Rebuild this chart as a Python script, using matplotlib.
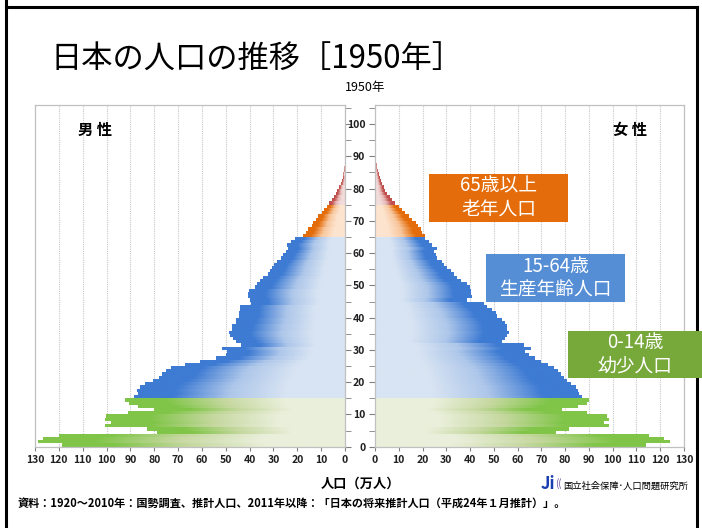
import numpy as np
import matplotlib
matplotlib.use("Agg")
import matplotlib.pyplot as plt
from matplotlib.colors import LinearSegmentedColormap
from matplotlib.patches import Rectangle
from matplotlib.lines import Line2D

plt.rcParams['font.family'] = ['Noto Sans CJK JP', 'DejaVu Sans']

# population by single year of age (10,000 persons), ages 0..
male = [118.7, 128.8, 126.7, 120.0, 78.7, 83.0, 100.5, 98.0, 100.7, 100.2,
        91.0, 80.0, 86.7, 90.6, 92.3,
        88.5, 86.7, 87.1, 86.1, 83.9, 80.4, 78.0, 76.6, 75.2, 73.1,
        67.2, 60.8, 54.1, 49.9, 49.6, 51.6, 43.6, 45.7, 47.1, 48.2,
        48.5, 47.5, 47.5, 45.9, 45.9, 44.5, 44.3, 44.0, 44.0, 39.3,
        40.0, 40.5, 40.5, 40.1, 37.9, 37.0, 35.5, 34.5, 32.5, 31.6,
        30.5, 29.8, 28.5, 27.0, 26.0, 24.6, 24.0, 24.5, 22.5, 21.0,
        17.6, 16.2, 15.5, 14.0, 13.3, 12.2, 11.2, 9.8, 8.9, 7.7,
        6.6, 5.6, 4.6, 3.8, 3.2, 2.4, 1.8, 1.4, 1.0, 0.7,
        0.45, 0.3, 0.2, 0.1]
female = [113.8, 124.0, 121.5, 115.2, 75.9, 81.2, 98.4, 96.2, 98.4, 97.2,
          88.9, 78.4, 85.0, 88.9, 89.9,
          86.7, 85.7, 85.3, 84.3, 82.2, 80.5, 79.1, 78.0, 76.6, 75.2,
          72.4, 69.5, 67.0, 64.6, 62.8, 65.3, 62.5, 53.4, 54.4, 55.5,
          56.2, 55.5, 55.5, 54.4, 53.4, 51.3, 50.6, 49.2, 47.1, 45.7,
          38.4, 40.7, 40.3, 40.3, 39.8, 38.6, 35.8, 34.4, 33.0, 31.6,
          30.2, 29.0, 28.1, 26.0, 25.3, 24.6, 26.0, 23.9, 22.5, 21.0,
          20.7, 19.7, 19.0, 17.8, 16.9, 15.5, 14.0, 12.6, 11.2, 9.8,
          8.4, 7.0, 6.0, 4.9, 4.2, 3.5, 2.8, 2.4, 1.8, 1.4,
          1.1, 0.8, 0.6, 0.4, 0.3, 0.2, 0.1]

x_ticks = list(range(0, 131, 10))
y_ticks = list(range(0, 101, 10))

# light (centre) -> dark (outer end) for each age group
group_colors = {
    'young': ('#e9efda', '#c6d8a0', '#80c548'),
    'work': ('#d8e4f3', '#aec7ea', '#3e7bd3'),
    'old': ('#fde4cf', '#f8c79d', '#e46c0a'),
    'oldest': ('#f2dcdb', '#e6b8b7', '#c0504d'),
}
cmaps = {k: LinearSegmentedColormap.from_list(k, [(0, v[0]), (0.28, v[0]), (0.55, v[1]), (0.82, v[2]), (1, v[2])])
         for k, v in group_colors.items()}


def group(age):
    if age < 15:
        return 'young'
    if age < 65:
        return 'work'
    if age < 75:
        return 'old'
    return 'oldest'


def draw_side(ax, values):
    ages = np.arange(len(values))
    bars = ax.barh(ages, values, height=1, align='edge', color='none', linewidth=0)
    grad = np.linspace(0, 1, 200).reshape(1, -1)
    for age, p in zip(ages, bars.patches):
        x0, w = p.get_x(), p.get_width()
        y0, h = p.get_y(), p.get_height()
        im = ax.imshow(grad, cmap=cmaps[group(age)], extent=[x0, x0 + w, y0, y0 + h],
                       aspect='auto', interpolation='bilinear', zorder=2)
        im.set_clip_path(p)
    ax.set_ylim(0, 105.9)
    ax.set_xticks(x_ticks)
    ax.set_yticks(y_ticks)
    ax.set_yticks(range(5, 106, 10), minor=True)
    ax.grid(axis='x', color='#c8c8c8', linestyle=(0, (1, 1)), linewidth=0.8, zorder=0)
    ax.set_axisbelow(True)
    for s in ax.spines.values():
        s.set_color('#c0c0c0')
        s.set_linewidth(0.9)
    ax.tick_params(axis='x', length=3, color='#808080', labelsize=7.5, pad=3)
    ax.tick_params(axis='y', which='both', length=4, color='#808080', labelsize=7.5)
    for lab in ax.get_xticklabels() + ax.get_yticklabels():
        lab.set_fontweight('bold')
        lab.set_color('#202020')


fig = plt.figure(figsize=(7.02, 5.28), dpi=100)
W, H = 702.0, 528.0

axl = fig.add_axes([35 / W, 1 - 446.7 / H, 310 / W, 341.7 / H])
axr = fig.add_axes([375 / W, 1 - 446.7 / H, 309 / W, 341.7 / H])

draw_side(axl, male)
axl.set_xlim(130, 0)
axl.yaxis.tick_right()
axl.tick_params(axis='y', which='both', labelright=False)

draw_side(axr, female)
axr.set_xlim(0, 130)
axr.tick_params(axis='y', pad=3)

axl.text(95 / W, 1 - 130 / H, '男 性', transform=fig.transFigure, fontsize=11,
         fontweight='bold', ha='center', va='center')
axr.text(630 / W, 1 - 130 / H, '女 性', transform=fig.transFigure, fontsize=11,
         fontweight='bold', ha='center', va='center')

# age-group boxes
boxes = [
    (429, 174, 568, 222, '#e46c0a', '65歳以上\n老年人口'),
    (486, 254, 625, 302, '#558ed5', '15-64歳\n生産年齢人口'),
    (568, 331, 702, 378, '#77a83a', '0-14歳\n幼少人口'),
]
for x0, y0, x1, y1, c, t in boxes:
    fig.patches.append(Rectangle((x0 / W, 1 - y1 / H), (x1 - x0) / W, (y1 - y0) / H,
                                 transform=fig.transFigure, facecolor=c, edgecolor='none', zorder=5))
    fig.text((x0 + x1) / 2 / W, 1 - (y0 + y1) / 2 / H, t, color='white', fontsize=13.5,
             ha='center', va='center', linespacing=1.15, zorder=6)

fig.text(50 / W, 1 - 60 / H, '日本の人口の推移［1950年］', fontsize=22.5, ha='left', va='center')
fig.text(365 / W, 1 - 88 / H, '1950年', fontsize=9, ha='center', va='center')
fig.text(360 / W, 1 - 484 / H, '人口（万人）', fontsize=9.5, fontweight='bold',
         ha='center', va='center')
fig.text(18 / W, 1 - 503 / H,
         '資料：1920～2010年：国勢調査、推計人口、2011年以降：「日本の将来推計人口（平成24年１月推計）」。',
         fontsize=8, fontweight='bold', ha='left', va='center')

# institute logo
fig.text(548 / W, 1 - 484 / H, 'Ji', fontsize=12, fontweight='bold', style='italic',
         color='#1a3fb0', ha='center', va='center')
fig.text(558 / W, 1 - 484 / H, '((', fontsize=7, color='#7050a0', ha='center', va='center')
fig.text(563 / W, 1 - 486 / H, '国立社会保障･人口問題研究所', fontsize=6.7,
         ha='left', va='center')

# slide frame
for xs, ys in [((6, 6), (0, 528)), ((6, 697), (7, 7)), ((697, 697), (7, 528))]:
    fig.lines.append(Line2D([x / W for x in xs], [1 - y / H for y in ys],
                            transform=fig.transFigure, color='black', linewidth=2.2))

fig.savefig('out.png', dpi=100)
